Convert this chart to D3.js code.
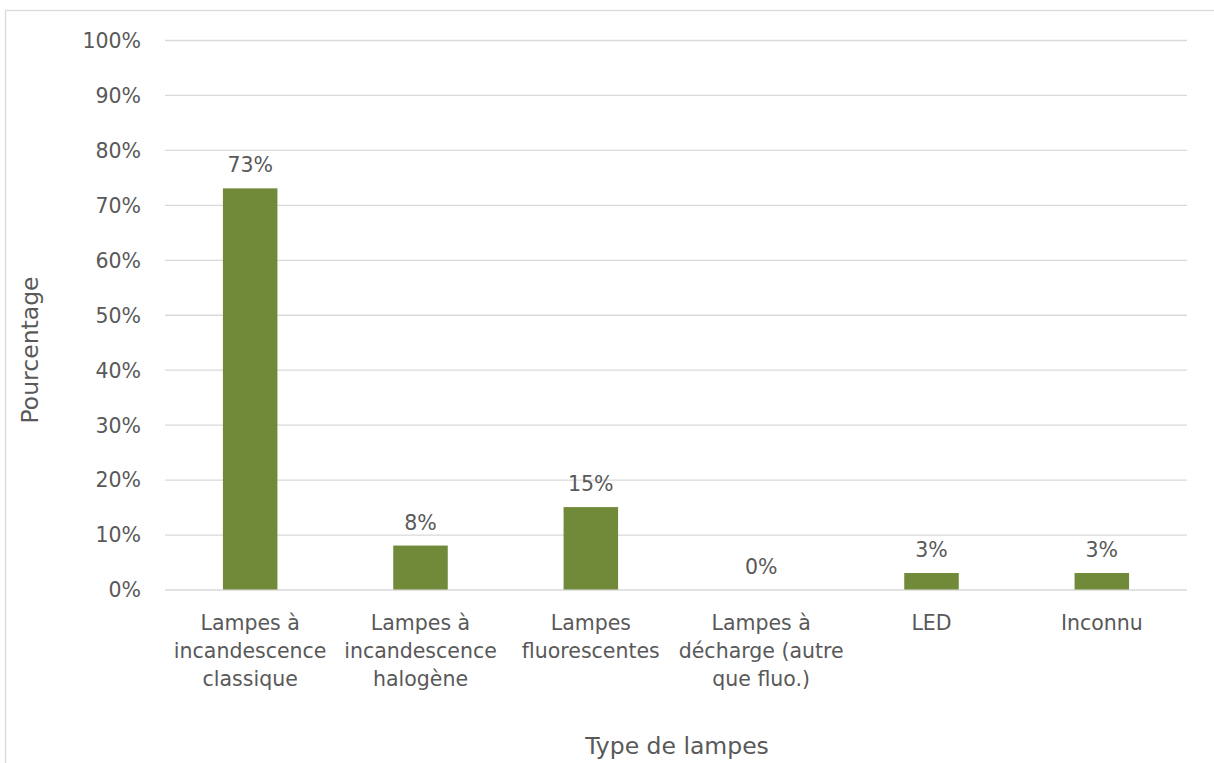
<!DOCTYPE html>
<html>
<head>
<meta charset="utf-8">
<script src="https://cdn.jsdelivr.net/npm/d3@7/dist/d3.min.js"></script>
<style>
  html, body { margin: 0; padding: 0; background: #fff; }
  svg { display: block; }
  text { font-family: "DejaVu Sans", Verdana, sans-serif; fill: #595959; }
</style>
</head>
<body>
<script>
// Lamp types and their share (%)
const categories = [
  ["Lampes à", "incandescence", "classique"],
  ["Lampes à", "incandescence", "halogène"],
  ["Lampes", "fluorescentes"],
  ["Lampes à", "décharge (autre", "que fluo.)"],
  ["LED"],
  ["Inconnu"]
];
const values = [73, 8, 15, 0, 3, 3];
const yTicks = [0, 10, 20, 30, 40, 50, 60, 70, 80, 90, 100];
const yTitle = "Pourcentage";
const xTitle = "Type de lampes";

const W = 1214, H = 763;
const margin = { left: 165, right: 27, top: 40, bottom: 173.5 };
const fontSize = 20.5;
const titleSize = 23.5;

const svg = d3.select("body").append("svg")
  .attr("width", W).attr("height", H);

// outer chart frame (runs past the right and bottom edges)
svg.append("rect")
  .attr("x", 5.5).attr("y", 10.5)
  .attr("width", W + 20).attr("height", H + 20)
  .attr("fill", "none").attr("stroke", "#d9d9d9").attr("stroke-width", 1.3);

const x = d3.scaleBand()
  .domain(d3.range(categories.length))
  .range([margin.left, W - margin.right])
  .paddingInner(0.68).paddingOuter(0.34);

const y = d3.scaleLinear()
  .domain([0, 100])
  .range([H - margin.bottom, margin.top]);

// horizontal gridlines + tick labels
const yAxis = d3.axisLeft(y)
  .tickValues(yTicks)
  .tickSize(-(W - margin.right - margin.left))
  .tickPadding(24)
  .tickFormat(d => d + "%");

const gy = svg.append("g")
  .attr("transform", `translate(${margin.left},0)`)
  .call(yAxis);
gy.select(".domain").remove();
gy.selectAll(".tick line").attr("stroke", "#d9d9d9").attr("stroke-width", 1.3);
gy.selectAll(".tick text")
  .style("font-size", fontSize + "px")
  .attr("fill", "#595959")
  .attr("dy", "0.36em");

// bars
svg.append("g").selectAll("rect")
  .data(values)
  .join("rect")
  .attr("x", (d, i) => x(i))
  .attr("width", x.bandwidth())
  .attr("y", d => y(d))
  .attr("height", d => y(0) - y(d))
  .attr("fill", "#718a3a");

// value labels
svg.append("g").selectAll("text")
  .data(values)
  .join("text")
  .attr("x", (d, i) => x(i) + x.bandwidth() / 2)
  .attr("y", d => y(d) - 16)
  .attr("text-anchor", "middle")
  .style("font-size", fontSize + "px")
  .text(d => d + "%");

// category labels (multi-line)
const catG = svg.append("g").selectAll("text")
  .data(categories)
  .join("text")
  .attr("text-anchor", "middle")
  .style("font-size", fontSize + "px")
  .attr("transform", (d, i) => `translate(${x(i) + x.bandwidth() / 2},${y(0) + 40})`);
catG.selectAll("tspan")
  .data(d => d)
  .join("tspan")
  .attr("x", 0)
  .attr("y", (d, j) => j * 28)
  .text(d => d);

// axis titles
svg.append("text")
  .attr("transform", `translate(38,350) rotate(-90)`)
  .attr("text-anchor", "middle")
  .style("font-size", titleSize + "px")
  .text(yTitle);

svg.append("text")
  .attr("x", (margin.left + W - margin.right) / 2 + 1)
  .attr("y", 754)
  .attr("text-anchor", "middle")
  .style("font-size", titleSize + "px")
  .text(xTitle);
</script>
</body>
</html>
